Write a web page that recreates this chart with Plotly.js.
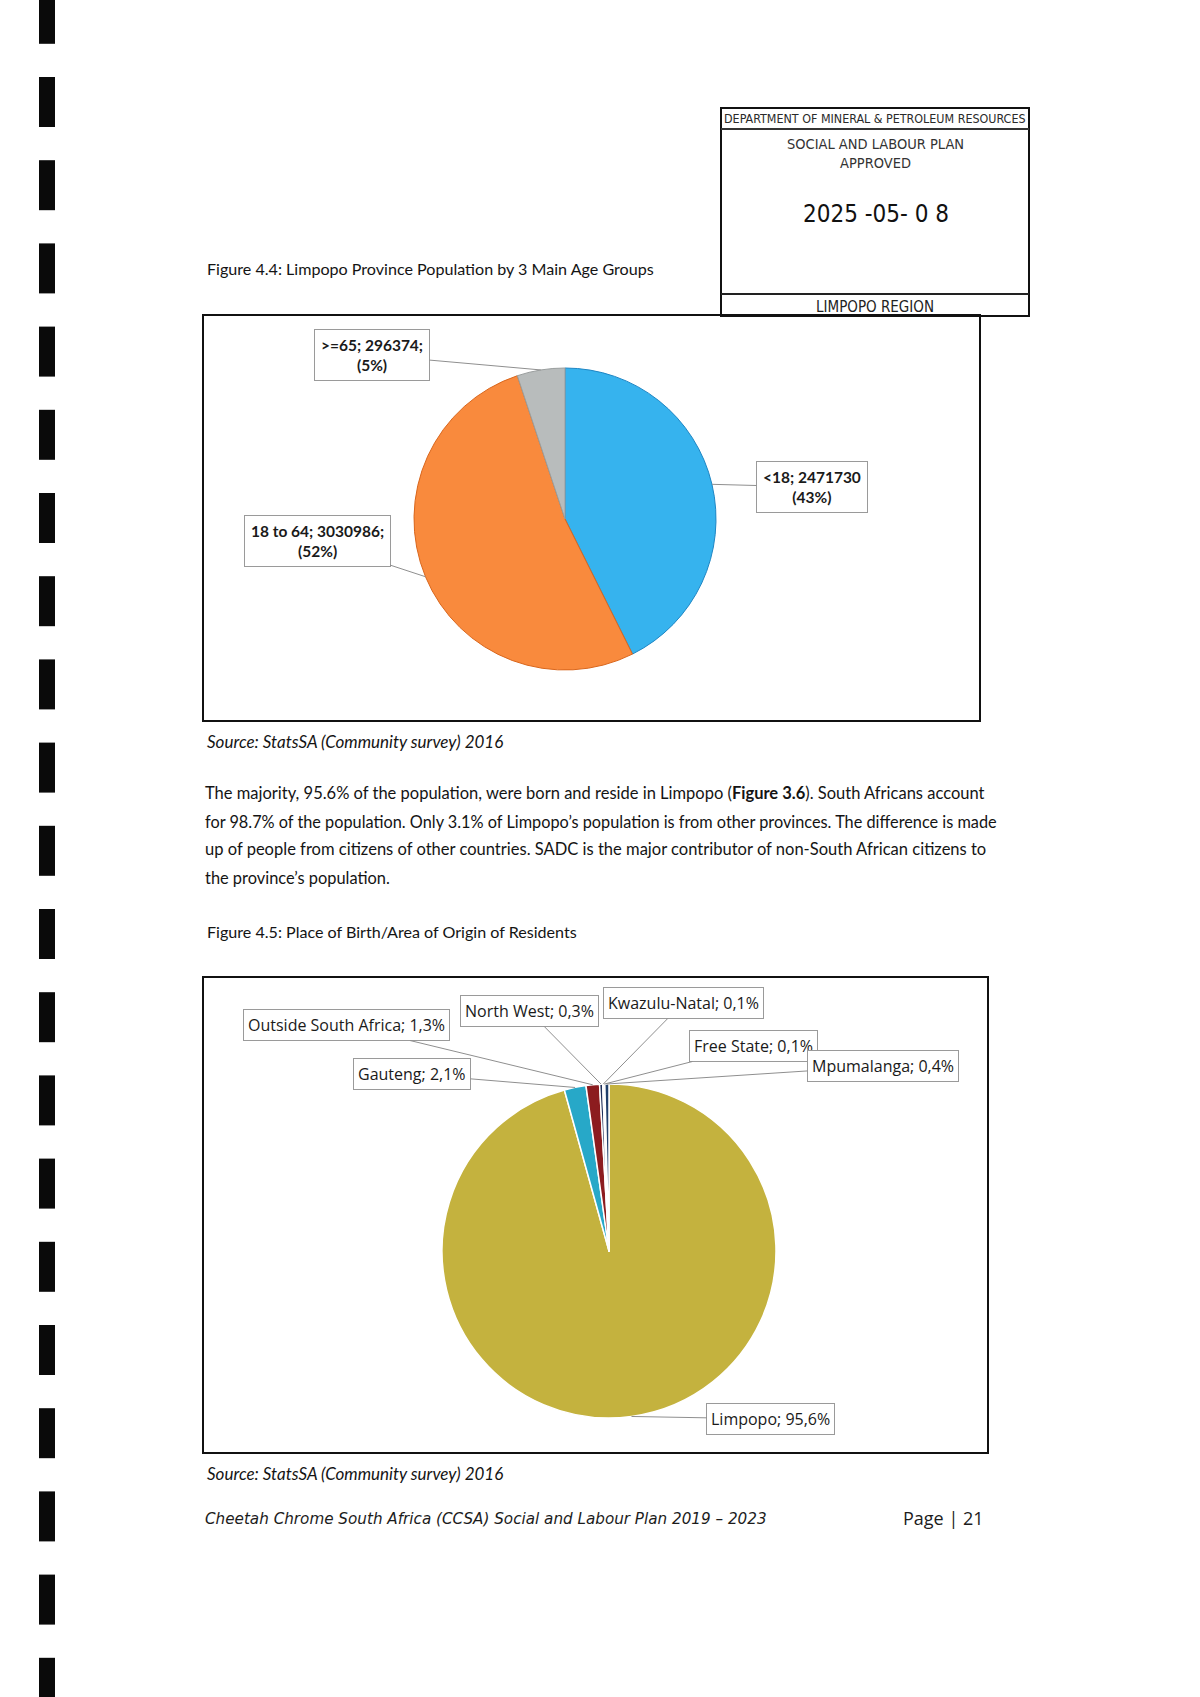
<!DOCTYPE html>
<html>
<head>
<meta charset="utf-8">
<script src="https://cdn.plot.ly/plotly-3.0.1.min.js"></script>
<style>
html,body{margin:0;padding:0;background:#fff;}
#page{width:1200px;height:1697px;}
</style>
</head>
<body>
<div id="page"></div>
<script>
// ---------- DATA ----------
const ageLabels = ['<18', '18 to 64', '>=65'];
const ageValues = [2471730, 3030986, 296374];
const ageSep = ['', ';', ';'];

const originLabels = ['Limpopo', 'Gauteng', 'Outside South Africa', 'North West', 'Kwazulu-Natal', 'Free State', 'Mpumalanga'];
const originValues = [95.6, 2.1, 1.3, 0.3, 0.1, 0.1, 0.4];

// ---------- STYLE / LAYOUT CONSTANTS ----------
const W = 1200, H = 1697;
const X = p => p / W;
const Y = p => 1 - p / H;

const ageColors = ['#36b3ee', '#f98a3d', '#b8bcbc'];
const ageLines = ['#1f86c4', '#d9661c', '#9a9e9e'];
const originColors = ['#c4b23e', '#27a8c8', '#8c1c1f', '#1f2f5a', '#3b3b8a', '#5a3a1a', '#203f6b'];

const pie1 = {cx: 565, cy: 519, r: 151};
const pie2 = {cx: 609, cy: 1251, r: 167};

// label box centres (page pixels)
const ageBox = [[812, 487], [317, 541], [372, 355]];
const originBox = [[771, 1419], [412, 1074], [346, 1025], [529, 1011], [683, 1003], [753, 1046], [883, 1066]];

const bodyFont = 'Lato, "Open Sans", sans-serif';
const gothFont = '"Open Sans", Lato, sans-serif';
const footFont = '"DejaVu Sans", "Open Sans", sans-serif';
const narrowFont = '"Liberation Sans Narrow", "DejaVu Sans Condensed", Roboto, sans-serif';

// ---------- HELPERS ----------
function midPoints(values, pie) {
  const total = values.reduce((a, b) => a + b, 0);
  let cum = 0;
  return values.map(v => {
    const frac = (cum + v / 2) / total;
    cum += v;
    const th = 2 * Math.PI * frac;
    return [pie.cx + pie.r * Math.sin(th), pie.cy - pie.r * Math.cos(th)];
  });
}
function domainOf(pie) {
  return {x: [X(pie.cx - pie.r), X(pie.cx + pie.r)], y: [Y(pie.cy + pie.r), Y(pie.cy - pie.r)]};
}

// ---------- TRACES ----------
const traces = [
  {
    type: 'pie', labels: ageLabels, values: ageValues, sort: false,
    direction: 'clockwise', rotation: 0, textinfo: 'none', hoverinfo: 'skip',
    marker: {colors: ageColors, line: {color: ageLines, width: 1}},
    domain: domainOf(pie1), showlegend: false
  },
  {
    type: 'pie', labels: originLabels, values: originValues, sort: false,
    direction: 'clockwise', rotation: 0, textinfo: 'none', hoverinfo: 'skip',
    marker: {colors: originColors, line: {color: '#ffffff', width: 1.5}},
    domain: domainOf(pie2), showlegend: false
  }
];

// ---------- ANNOTATIONS ----------
const ann = [];
function txt(text, x, y, size, opts) {
  ann.push(Object.assign({
    text: text, x: X(x), y: Y(y), xref: 'paper', yref: 'paper',
    xanchor: 'left', yanchor: 'middle', showarrow: false,
    font: {family: bodyFont, size: size, color: '#141414'}
  }, opts || {}));
}

// stamp
txt('DEPARTMENT OF MINERAL &amp; PETROLEUM RESOURCES', 875, 118, 12.4, {xanchor: 'center', font: {family: narrowFont, size: 12.4, color: '#2a2a2a'}});
txt('SOCIAL AND LABOUR PLAN', 875, 144, 14.5, {xanchor: 'center', font: {family: narrowFont, size: 14.5, color: '#333'}});
txt('APPROVED', 875, 163, 14.5, {xanchor: 'center', font: {family: narrowFont, size: 14.5, color: '#333'}});
txt('2025 -05- 0 8', 876, 214, 24, {xanchor: 'center', font: {family: narrowFont, size: 24, color: '#111'}});
txt('LIMPOPO REGION', 875, 307, 15, {xanchor: 'center', font: {family: narrowFont, size: 15, color: '#222'}});

// captions & body
txt('Figure 4.4: Limpopo Province Population by 3 Main Age Groups', 205, 269, 16.1);
txt('<i>Source: StatsSA (Community survey) 2016</i>', 205, 741, 17);
txt('The majority, 95.6% of the population, were born and reside in Limpopo (<b>Figure 3.6</b>). South Africans account', 203, 793, 16.5);
txt('for 98.7% of the population. Only 3.1% of Limpopo’s population is from other provinces. The difference is made', 203, 821, 16.3);
txt('up of people from citizens of other countries. SADC is the major contributor of non-South African citizens to', 203, 849, 16.55);
txt('the province’s population.', 203, 877, 16.4);
txt('Figure 4.5: Place of Birth/Area of Origin of Residents', 205, 931, 16.1);
txt('<i>Source: StatsSA (Community survey) 2016</i>', 205, 1473, 17);
txt('<i>Cheetah Chrome South Africa (CCSA) Social and Labour Plan 2019 – 2023</i>', 203, 1519, 15.2, {font: {family: footFont, size: 15.2, color: '#1c1c1c'}});
txt('Page | 21', 986, 1518, 18, {xanchor: 'right', font: {family: gothFont, size: 18, color: '#1c1c1c'}});

// pie 1 labels
const total1 = ageValues.reduce((a, b) => a + b, 0);
const pts1 = midPoints(ageValues, pie1);
ageLabels.forEach((lab, i) => {
  const pct = Math.round(100 * ageValues[i] / total1);
  ann.push({
    text: '<b>' + lab + '; ' + ageValues[i] + ageSep[i] + '</b><br><b>(' + pct + '%)</b>',
    xref: 'paper', yref: 'paper', x: X(pts1[i][0]), y: Y(pts1[i][1]),
    ax: ageBox[i][0] - pts1[i][0], ay: ageBox[i][1] - pts1[i][1],
    showarrow: true, arrowhead: 0, arrowwidth: 1, arrowcolor: '#8f8f8f',
    bordercolor: '#9a9a9a', borderwidth: 1, borderpad: 6, bgcolor: '#ffffff',
    align: 'center', font: {family: bodyFont, size: 15.5, color: '#1a1a1a'}
  });
});

// pie 2 labels
const pts2 = midPoints(originValues, pie2);
originLabels.forEach((lab, i) => {
  ann.push({
    text: lab + '; ' + originValues[i].toFixed(1).replace('.', ',') + '%',
    xref: 'paper', yref: 'paper', x: X(pts2[i][0]), y: Y(pts2[i][1]),
    ax: originBox[i][0] - pts2[i][0], ay: originBox[i][1] - pts2[i][1],
    showarrow: true, arrowhead: 0, arrowwidth: 1, arrowcolor: '#8f8f8f',
    bordercolor: '#9a9a9a', borderwidth: 1, borderpad: 4, bgcolor: '#ffffff',
    align: 'center', font: {family: gothFont, size: 16, color: '#1a1a1a'}
  });
});

// ---------- SHAPES ----------
const shapes = [];
function rect(x0, y0, x1, y1, line, fill) {
  shapes.push({type: 'rect', xref: 'paper', yref: 'paper', x0: X(x0), x1: X(x1), y0: Y(y1), y1: Y(y0),
    line: line, fillcolor: fill || 'rgba(0,0,0,0)', layer: 'below'});
}
function hline(x0, x1, y, w, c) {
  shapes.push({type: 'line', xref: 'paper', yref: 'paper', x0: X(x0), x1: X(x1), y0: Y(y), y1: Y(y), line: {color: c, width: w}});
}
// binding marks
for (let k = -1; k <= 19; k++) {
  const y0 = 77 + 83.2 * k;
  rect(39, Math.max(y0, 0), 55, Math.min(y0 + 50, H), {width: 0}, '#0a0a0a');
}
// chart frames
rect(203, 315, 980, 721, {color: '#111', width: 2});
rect(203, 977, 988, 1453, {color: '#111', width: 2});
// stamp
rect(721, 108, 1029, 316, {color: '#111', width: 2});
hline(721, 1029, 129, 2, '#333');
hline(721, 1029, 294, 2, '#222');

const layout = {
  width: W, height: H, margin: {l: 0, r: 0, t: 0, b: 0},
  paper_bgcolor: '#ffffff', plot_bgcolor: '#ffffff',
  showlegend: false, hovermode: false,
  annotations: ann, shapes: shapes
};

Plotly.newPlot('page', traces, layout, {displayModeBar: false, staticPlot: true});
</script>
</body>
</html>
